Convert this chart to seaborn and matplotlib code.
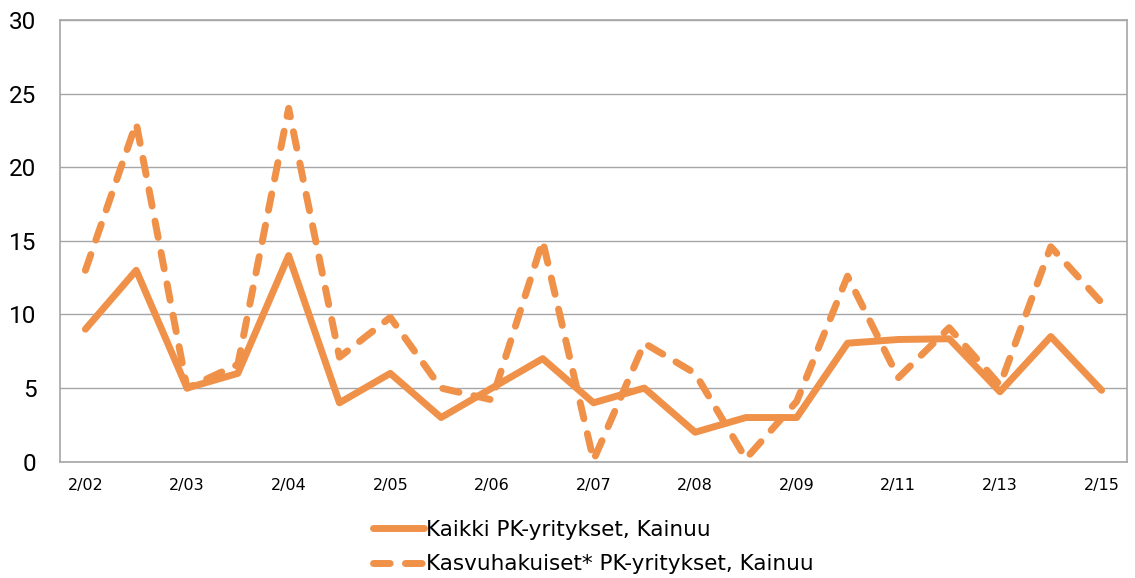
import matplotlib
matplotlib.use('Agg')
import matplotlib.pyplot as plt
import seaborn as sns

# Data
periods = ['2/02', '', '2/03', '', '2/04', '', '2/05', '', '2/06', '', '2/07',
           '', '2/08', '', '2/09', '', '2/11', '', '2/13', '', '2/15']
kaikki = [9, 13, 5, 6, 14, 4, 6, 3, 5, 7, 4, 5, 2, 3, 3, 8.05, 8.3, 8.35, 4.75, 8.5, 4.85]
kasvuhakuiset = [13, 23, 5, 6.6, 24, 7.1, 9.8, 5.0, 4.2, 15, 0.1, 8.05, 6.0, 0.2, 4.1,
                 12.6, 5.7, 9.1, 5.2, 14.6, 10.8]

label_all = 'Kaikki PK-yritykset, Kainuu'
label_growth = 'Kasvuhakuiset* PK-yritykset, Kainuu'

orange = '#F0914A'
grid_gray = '#A6A6A6'

sns.set_style('white')
plt.rcParams['font.family'] = ['DejaVu Sans']
plt.rcParams['text.color'] = 'black'

fig = plt.figure(figsize=(11.35, 5.78), dpi=100)
ax = fig.add_axes([60 / 1135, 1 - 461.7 / 578, (1127 - 60) / 1135, (461.7 - 20) / 578])

x = list(range(len(periods)))
sns.lineplot(x=x, y=kaikki, ax=ax, color=orange, lw=5, label=label_all,
             solid_capstyle='round', solid_joinstyle='round')
sns.lineplot(x=x, y=kasvuhakuiset, ax=ax, color=orange, lw=5, label=label_growth,
             linestyle=(0, (2.4, 2.2)), dash_capstyle='round', dash_joinstyle='round')

ax.set_xlim(-0.5, len(periods) - 0.5)
ax.set_ylim(0, 30)
ax.set_yticks(range(0, 31, 5))
ax.set_yticklabels([str(v) for v in range(0, 31, 5)], fontsize=17.5, family='Roboto')
ticks = [i for i, p in enumerate(periods) if p]
ax.set_xticks(ticks)
ax.set_xticklabels([periods[i] for i in ticks], fontsize=11.5)
ax.tick_params(axis='both', length=0, colors='black')
ax.tick_params(axis='y', pad=17)
ax.tick_params(axis='x', pad=12)

ax.yaxis.grid(True, color=grid_gray, lw=1)
ax.set_axisbelow(True)
for s in ax.spines.values():
    s.set_color(grid_gray)
    s.set_linewidth(1.2)

leg = ax.legend(loc='center left', bbox_to_anchor=(362 / 1135, 1 - 547 / 578),
                bbox_transform=fig.transFigure, frameon=False, fontsize=15.5,
                handlelength=2.4, handletextpad=0.08, labelspacing=0.66, borderpad=0)
for t in leg.get_texts():
    t.set_color('black')

fig.savefig('out.png', dpi=100)
